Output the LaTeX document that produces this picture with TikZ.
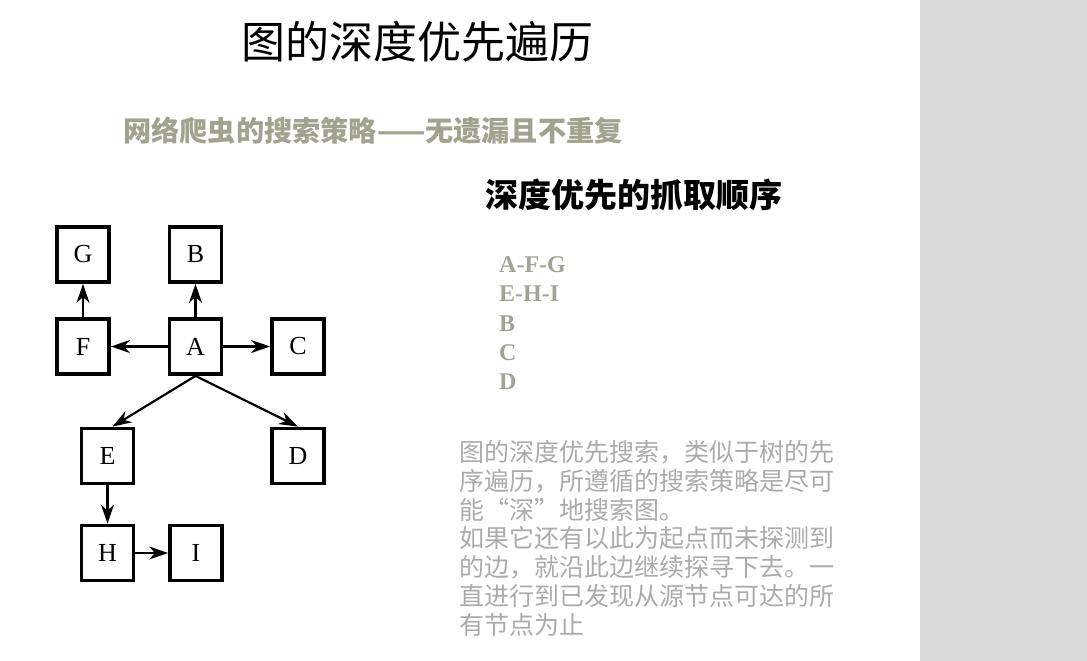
\documentclass[tikz,border=0pt]{standalone}
\usepackage{fontspec}
\usepackage{xcolor}
\usepackage{tikz}
\usetikzlibrary{arrows.meta}
\usetikzlibrary{positioning}
\setmainfont{Liberation Serif}
\newfontfamily\cjk{Noto Sans CJK SC}
\definecolor{olivegray}{HTML}{A2A38E}
\definecolor{listgray}{HTML}{A3A395}
\definecolor{notegray}{HTML}{ABABAB}
\definecolor{panelgray}{HTML}{DADADA}

\begin{document}
\begin{tikzpicture}[x=1pt,y=-1pt,
  vertex/.style={draw,line width=3.8pt,minimum width=52pt,minimum height=55pt,
    inner sep=0pt,font=\fontsize{26}{26}\selectfont},
  arr/.style={line width=2.2pt,-{Stealth[length=19pt,width=13pt,inset=6pt]}},
  order/.style={anchor=west,inner sep=0pt,text=listgray,
    font=\fontsize{24}{24}\selectfont\bfseries}]
\useasboundingbox (0,0) rectangle (1087,661);
\fill[panelgray] (920,0) rectangle (1087,661);

% titles
\node (title) at (417,42) {\cjk\fontsize{44}{44}\selectfont 图的深度优先遍历};
\node[text=olivegray] (sub) at (373,131)
  {\cjk\bfseries\fontsize{28.2}{28.2}\selectfont 网络爬虫的搜索策略——无遗漏且不重复};
\node (head) at (634,195) {\cjk\bfseries\fontsize{33}{33}\selectfont 深度优先的抓取顺序};

% graph
\node[vertex] (G) at (83,254.5) {G};
\node[vertex] (B) at (195.5,254.5) {B};
\node[vertex] (F) at (83,346.5) {F};
\node[vertex] (A) at (195.5,346.5) {A};
\node[vertex] (C) at (298,346.5) {C};
\node[vertex] (E) at (107.5,456) {E};
\node[vertex] (D) at (298,456) {D};
\node[vertex] (H) at (107.5,553) {H};
\node[vertex] (I) at (196,553) {I};

\draw[arr] (A) -- (F);
\draw[arr] (A) -- (C);
\draw[arr] (F) -- (G);
\draw[arr] (A) -- (B);
\draw[arr] (A.south) -- ([xshift=5pt]E.north);
\draw[arr] (A.south) -- (D.north);
\draw[arr] (E) -- (H);
\draw[arr] (H) -- (I);

% visiting order
\foreach \t [count=\i] in {A-F-G,E-H-I,B,C,D}
  \node[order] (o\i) at (499,235.5+29.3*\i) {\t};

% explanation
\node[anchor=base west,inner sep=0pt,align=left,text=notegray,
  font=\cjk\fontsize{25}{28.8}\selectfont] (note) at (459,634.3)
  {图的深度优先搜索，类似于树的先\\
   序遍历，所遵循的搜索策略是尽可\\
   能“深”地搜索图。\\
   如果它还有以此为起点而未探测到\\
   的边，就沿此边继续探寻下去。一\\
   直进行到已发现从源节点可达的所\\
   有节点为止};
\end{tikzpicture}
\end{document}
